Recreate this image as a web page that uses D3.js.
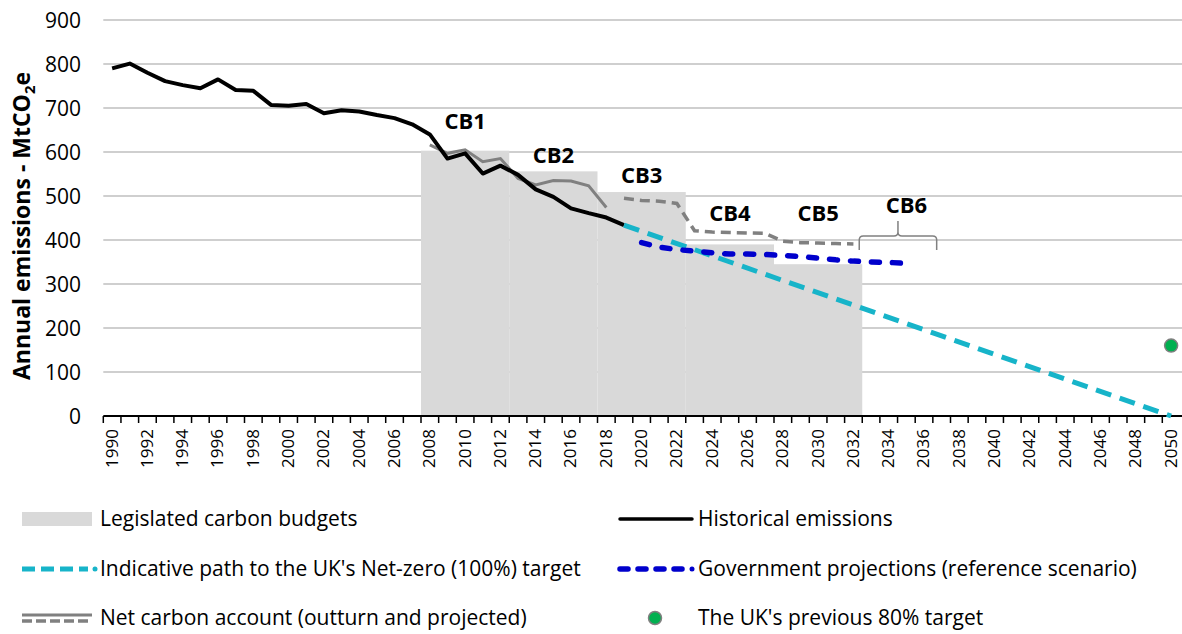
<!DOCTYPE html>
<html>
<head>
<meta charset="utf-8">
<script src="https://cdn.jsdelivr.net/npm/d3@7"></script>
<style>
  body { margin: 0; background: #fff; }
  svg { display: block; font-family: "Open Sans", sans-serif; }
</style>
</head>
<body>
<div id="chart"></div>
<script>
// UK emissions vs carbon budgets

// Categories (one per year on the x axis)
const years = d3.range(1990, 2051);
const yTicks = [0, 100, 200, 300, 400, 500, 600, 700, 800, 900];

// Historical emissions (MtCO2e)
const histYears = [1990, 1991, 1992, 1993, 1994, 1995, 1996, 1997, 1998, 1999,
  2000, 2001, 2002, 2003, 2004, 2005, 2006, 2007, 2008, 2009,
  2010, 2011, 2012, 2013, 2014, 2015, 2016, 2017, 2018, 2019];
const histValues = [790, 801, 780, 761, 752, 745, 765, 741, 739, 707,
  705, 709, 688, 695, 692, 684, 677, 663, 640, 585,
  597, 551, 569, 548, 515, 498, 472, 461, 451, 434];

// Net carbon account - outturn
const netYears = [2008, 2009, 2010, 2011, 2012, 2013, 2014, 2015, 2016, 2017, 2018];
const netValues = [616, 597, 605, 578, 585, 540, 525, 535, 534, 523, 474];

// Net carbon account - projected
const netProjYears = [2019, 2020, 2021, 2022, 2023, 2024, 2025, 2026, 2027, 2028, 2029, 2030, 2031, 2032];
const netProjValues = [495, 490, 488, 483, 421, 418, 417, 416, 415, 397, 394, 393, 392, 391];

// Indicative path to net zero
const pathYears = [2019, 2050];
const pathValues = [434, 0];

// Government projections (reference scenario)
const govYears = [2020, 2021, 2022, 2023, 2024, 2025, 2026, 2027, 2028, 2029, 2030, 2031, 2032, 2033, 2034, 2035];
const govValues = [394, 384, 378, 375, 371, 368, 368, 367, 365, 362, 359, 355, 352, 350, 349, 347];

// Previous 80% target
const targetYear = 2050;
const targetValue = 160;

// Carbon budgets (annual average level)
const budgetNames = ["CB1", "CB2", "CB3", "CB4", "CB5", "CB6"];
const budgetStart = [2008, 2013, 2018, 2023, 2028, 2033];
const budgetEnd = [2012, 2017, 2022, 2027, 2032, 2037];
const budgetLevel = [603, 556, 509, 390, 345, null];
const labelLevel = [670, 593, 548, 460, 460, 478];

const W = 1182, H = 634;
const margin = { top: 20, left: 103.3, bottom: 218 };
const plotRight = margin.left + years.length * 17.65;

const svg = d3.select("#chart").append("svg")
  .attr("width", W).attr("height", H);

const x = d3.scaleBand().domain(years).range([margin.left, plotRight]).padding(0);
const y = d3.scaleLinear().domain([0, 900]).range([H - margin.bottom, margin.top]);
const bw = x.bandwidth();
const xc = function (yr) { return x(yr) + bw / 2; };

// gridlines
svg.append("g").selectAll("line")
  .data(yTicks.filter(d => d > 0))
  .enter().append("line")
  .attr("x1", margin.left).attr("x2", W)
  .attr("y1", d => y(d)).attr("y2", d => y(d))
  .attr("stroke", "#bfbfbf").attr("stroke-width", 1.5);

// budgets
const budgets = budgetNames.map((n, i) => ({
  name: n, start: budgetStart[i], end: budgetEnd[i], level: budgetLevel[i], label: labelLevel[i]
}));

svg.append("g").selectAll("rect")
  .data(budgets.filter(d => d.level !== null))
  .enter().append("rect")
  .attr("x", d => x(d.start))
  .attr("width", d => x(d.end) + bw - x(d.start))
  .attr("y", d => y(d.level))
  .attr("height", d => y(0) - y(d.level))
  .attr("fill", "#d9d9d9");

// y axis labels
svg.append("g").selectAll("text")
  .data(yTicks)
  .enter().append("text")
  .attr("x", 81).attr("y", d => y(d))
  .attr("dy", "0.36em")
  .attr("text-anchor", "end")
  .attr("font-size", 21)
  .attr("fill", "#000")
  .text(d => d);

// y axis title
const yTitle = svg.append("text")
  .attr("transform", "translate(30," + ((y(0) + y(900)) / 2 + 8) + ") rotate(-90)")
  .attr("text-anchor", "middle")
  .attr("font-size", 23)
  .attr("font-weight", "bold")
  .attr("fill", "#000");
yTitle.append("tspan").text("Annual emissions - MtCO");
yTitle.append("tspan").attr("font-size", 15).attr("dy", 5).text("2");
yTitle.append("tspan").attr("dy", -5).text("e");

// x axis
const xAxis = svg.append("g");
xAxis.append("line")
  .attr("x1", margin.left).attr("x2", W)
  .attr("y1", y(0)).attr("y2", y(0))
  .attr("stroke", "#000").attr("stroke-width", 2);
xAxis.selectAll(".tick")
  .data(years)
  .enter().append("line")
  .attr("x1", d => x(d)).attr("x2", d => x(d))
  .attr("y1", y(0)).attr("y2", y(0) + 7)
  .attr("stroke", "#000").attr("stroke-width", 1.5);
xAxis.selectAll("text")
  .data(years.filter(d => d % 2 === 0))
  .enter().append("text")
  .attr("transform", d => "translate(" + xc(d) + "," + (y(0) + 13) + ") rotate(-90)")
  .attr("dy", "0.32em")
  .attr("text-anchor", "end")
  .attr("font-size", 17)
  .attr("fill", "#000")
  .text(d => d);

// lines
const line = d3.line().x(d => xc(d[0])).y(d => y(d[1]));
const zip = (a, b) => a.map((v, i) => [v, b[i]]);

svg.append("path")
  .datum(zip(netYears, netValues))
  .attr("d", line)
  .attr("fill", "none").attr("stroke", "#808080").attr("stroke-width", 3);

svg.append("path")
  .datum(zip(netProjYears, netProjValues))
  .attr("d", line)
  .attr("fill", "none").attr("stroke", "#808080").attr("stroke-width", 3.5)
  .attr("stroke-dasharray", "10,6");

svg.append("path")
  .datum(zip(histYears, histValues))
  .attr("d", line)
  .attr("fill", "none").attr("stroke", "#000").attr("stroke-width", 4)
  .attr("stroke-linejoin", "round");

svg.append("path")
  .datum(zip(pathYears, pathValues))
  .attr("d", line)
  .attr("fill", "none").attr("stroke", "#17b4c9").attr("stroke-width", 5)
  .attr("stroke-dasharray", "16,9");

svg.append("path")
  .datum(zip(govYears, govValues))
  .attr("d", line)
  .attr("fill", "none").attr("stroke", "#0000cc").attr("stroke-width", 5.5)
  .attr("stroke-linecap", "round")
  .attr("stroke-dasharray", "8,13");

svg.append("circle")
  .attr("cx", xc(targetYear)).attr("cy", y(targetValue)).attr("r", 6.5)
  .attr("fill", "#00b050").attr("stroke", "#7f7f7f").attr("stroke-width", 1.5);

// budget labels
svg.append("g").selectAll("text")
  .data(budgets)
  .enter().append("text")
  .attr("x", d => (x(d.start) + x(d.end) + bw) / 2)
  .attr("y", d => y(d.label))
  .attr("dy", "0.35em")
  .attr("text-anchor", "middle")
  .attr("font-size", 22)
  .attr("font-weight", "bold")
  .attr("fill", "#000")
  .text(d => d.name);

// CB6 bracket
const cb6 = budgets[5];
const bl = x(cb6.start) - 3, br = x(cb6.end) + bw / 2 - 5;
const bm = (bl + br) / 2, bBot = y(377), bTop = y(409), bTip = y(443);
svg.append("path")
  .attr("d", "M" + bl + "," + bBot + " L" + bl + "," + (bTop + 4) +
    " Q" + bl + "," + bTop + " " + (bl + 4) + "," + bTop +
    " L" + (bm - 4) + "," + bTop + " Q" + bm + "," + bTop + " " + bm + "," + (bTop - 4) +
    " L" + bm + "," + bTip +
    " M" + bm + "," + (bTop - 4) + " Q" + bm + "," + bTop + " " + (bm + 4) + "," + bTop +
    " L" + (br - 4) + "," + bTop + " Q" + br + "," + bTop + " " + br + "," + (bTop + 4) +
    " L" + br + "," + bBot)
  .attr("fill", "none").attr("stroke", "#808080").attr("stroke-width", 1.5);

// legend
const lg = svg.append("g").attr("font-size", 21).attr("fill", "#000");
const rows = [519, 569, 618];
const c1 = 22, c1e = 95, c2 = 620, c2e = 692;

lg.append("rect").attr("x", c1).attr("y", rows[0] - 7).attr("width", c1e - c1 - 3).attr("height", 14)
  .attr("fill", "#d9d9d9");
lg.append("text").attr("x", 100).attr("y", rows[0]).attr("dy", "0.35em").text("Legislated carbon budgets");

lg.append("line").attr("x1", c1).attr("x2", c1e - 7).attr("y1", rows[1]).attr("y2", rows[1])
  .attr("stroke", "#17b4c9").attr("stroke-width", 5).attr("stroke-dasharray", "13,6");
lg.append("circle").attr("cx", c1e).attr("cy", rows[1]).attr("r", 2.5).attr("fill", "#17b4c9");
lg.append("text").attr("x", 100).attr("y", rows[1]).attr("dy", "0.35em")
  .text("Indicative path to the UK's Net-zero (100%) target");

lg.append("line").attr("x1", c1).attr("x2", c1e - 3).attr("y1", rows[2] - 3).attr("y2", rows[2] - 3)
  .attr("stroke", "#808080").attr("stroke-width", 3);
lg.append("line").attr("x1", c1).attr("x2", c1e - 3).attr("y1", rows[2] + 3).attr("y2", rows[2] + 3)
  .attr("stroke", "#808080").attr("stroke-width", 3.5).attr("stroke-dasharray", "10,4");
lg.append("text").attr("x", 100).attr("y", rows[2]).attr("dy", "0.35em")
  .text("Net carbon account (outturn and projected)");

lg.append("line").attr("x1", c2).attr("x2", c2e).attr("y1", rows[0]).attr("y2", rows[0])
  .attr("stroke", "#000").attr("stroke-width", 3.5).attr("stroke-linecap", "round");
lg.append("text").attr("x", 698).attr("y", rows[0]).attr("dy", "0.35em").text("Historical emissions");

lg.append("line").attr("x1", c2).attr("x2", c2e - 6).attr("y1", rows[1]).attr("y2", rows[1])
  .attr("stroke", "#0000cc").attr("stroke-width", 5.5).attr("stroke-linecap", "round")
  .attr("stroke-dasharray", "8,10");
lg.append("circle").attr("cx", c2e).attr("cy", rows[1]).attr("r", 2.5).attr("fill", "#0000cc");
lg.append("text").attr("x", 698).attr("y", rows[1]).attr("dy", "0.35em")
  .text("Government projections (reference scenario)");

lg.append("circle").attr("cx", 655).attr("cy", rows[2]).attr("r", 6.5)
  .attr("fill", "#00b050").attr("stroke", "#7f7f7f").attr("stroke-width", 1.5);
lg.append("text").attr("x", 698).attr("y", rows[2]).attr("dy", "0.35em")
  .text("The UK's previous 80% target");
</script>
</body>
</html>
